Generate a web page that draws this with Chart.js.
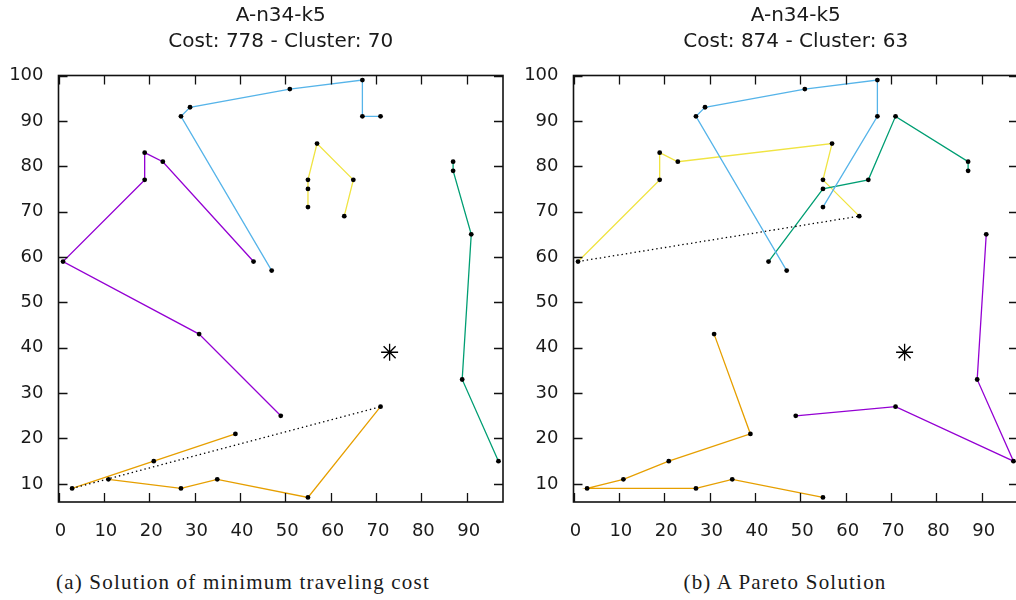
<!DOCTYPE html>
<html>
<head>
<meta charset="utf-8">
<title>A-n34-k5 solutions</title>
<script src="https://cdn.jsdelivr.net/npm/chart.js@4.4.1/dist/chart.umd.min.js"></script>
<style>
  html, body { margin: 0; padding: 0; background: #fff; }
  body { width: 1016px; height: 600px; overflow: hidden; position: relative; }
  .panel { position: absolute; top: 0; width: 562px; height: 560px; }
  .caption {
    position: absolute; top: 570px;
    font-family: "Liberation Serif", "DejaVu Serif", serif;
    font-size: 21px; letter-spacing: 1.2px; color: #1a1a1a;
    white-space: nowrap; transform: translateX(-50%);
  }
</style>
</head>
<body>
<div class="panel" style="left:0"><canvas id="chartA"></canvas></div>
<div class="panel" style="left:515px"><canvas id="chartB"></canvas></div>
<div class="caption" style="left:243px">(a) Solution of minimum traveling cost</div>
<div class="caption" style="left:785px">(b) A Pareto Solution</div>

<script>
// instance + axis setup
const instanceName = 'A-n34-k5';
const depot = [[73, 39]];
const xLimits = [0, 98];
const yLimits = [6, 100];
const tickStep = 10;

// route colours (gnuplot default palette)
const PURPLE = '#9400d3';
const BLUE = '#56b4e9';
const YELLOW = '#f0e442';
const GREEN = '#009e73';
const ORANGE = '#e69f00';

// solution (a): minimum traveling cost
const costA = 778, clusterA = 70;
const purpleA = [[43, 59], [23, 81], [19, 83], [19, 77], [1, 59], [31, 43], [49, 25]];
const blueA = [[47, 57], [27, 91], [29, 93], [51, 97], [67, 99], [67, 91], [71, 91]];
const yellowA = [[55, 71], [55, 75], [55, 77], [57, 85], [65, 77], [63, 69]];
const greenA = [[87, 81], [87, 79], [91, 65], [89, 33], [97, 15]];
const orangeA1 = [[39, 21], [21, 15], [3, 9]];
const orangeA2 = [[11, 11], [27, 9], [35, 11], [55, 7], [71, 27]];
const linkA = [[3, 9], [71, 27]];

// solution (b): a pareto solution
const costB = 874, clusterB = 63;
const blueB = [[47, 57], [27, 91], [29, 93], [51, 97], [67, 99], [67, 91], [55, 71]];
const greenB = [[43, 59], [55, 75], [65, 77], [71, 91], [87, 81], [87, 79]];
const yellowB = [[1, 59], [19, 77], [19, 83], [23, 81], [57, 85], [55, 77], [63, 69]];
const purpleB = [[49, 25], [71, 27], [97, 15], [89, 33], [91, 65]];
const orangeB = [[31, 43], [39, 21], [21, 15], [11, 11], [3, 9], [27, 9], [35, 11], [55, 7]];
const linkB = [[1, 59], [63, 69]];

const toXY = pts => pts.map(p => ({ x: p[0], y: p[1] }));

function route(pts, color) {
    return {
        data: toXY(pts),
        showLine: true,
        borderColor: color,
        borderWidth: 1.3,
        pointRadius: 2.4,
        pointBackgroundColor: '#000',
        pointBorderColor: '#000',
        pointBorderWidth: 0
    };
}

function link(pts) {
    return {
        data: toXY(pts),
        showLine: true,
        borderColor: '#000',
        borderWidth: 1.3,
        borderDash: [1.4, 3],
        pointRadius: 0
    };
}

function depotSet() {
    return {
        data: toXY(depot),
        showLine: false,
        pointStyle: 'star',
        pointRadius: 8.5,
        pointBorderColor: '#000',
        pointBorderWidth: 1.3,
        pointBackgroundColor: '#000'
    };
}

// gnuplot-like frame with inward ticks on all four sides
const frameTicks = {
    id: 'frameTicks',
    afterDraw(chart) {
        const { ctx, chartArea: a, scales: { x, y } } = chart;
        const len = 9;
        ctx.save();
        ctx.strokeStyle = '#111';
        ctx.lineWidth = 1.3;
        ctx.beginPath();
        x.ticks.forEach(t => {
            const px = Math.round(x.getPixelForValue(t.value)) + 0.5;
            ctx.moveTo(px, a.bottom); ctx.lineTo(px, a.bottom - len);
            ctx.moveTo(px, a.top); ctx.lineTo(px, a.top + len);
        });
        y.ticks.forEach(t => {
            const py = Math.round(y.getPixelForValue(t.value)) + 0.5;
            ctx.moveTo(a.left, py); ctx.lineTo(a.left + len, py);
            ctx.moveTo(a.right, py); ctx.lineTo(a.right - len, py);
        });
        ctx.stroke();
        ctx.lineWidth = 1.6;
        ctx.strokeRect(a.left, a.top, a.right - a.left, a.bottom - a.top);
        ctx.restore();
    }
};

const tickFont = { family: 'DejaVu Sans', size: 18 };

function makeChart(id, cost, cluster, datasets) {
    return new Chart(document.getElementById(id), {
        type: 'scatter',
        data: { datasets: datasets },
        options: {
            responsive: true,
            maintainAspectRatio: false,
            animation: false,
            events: [],
            layout: { padding: { left: 0, right: 59, top: 0, bottom: 0 } },
            plugins: {
                legend: { display: false },
                tooltip: { enabled: false },
                title: {
                    display: true,
                    fullSize: false,
                    text: [instanceName, 'Cost: ' + cost + ' - Cluster: ' + cluster],
                    color: '#1a1a1a',
                    font: { family: 'DejaVu Sans', size: 20, weight: 'normal', lineHeight: 1.3 },
                    padding: { top: 3, bottom: 22 }
                }
            },
            scales: {
                x: {
                    type: 'linear',
                    min: xLimits[0],
                    max: xLimits[1],
                    grid: { display: false, drawTicks: false },
                    border: { display: false },
                    ticks: {
                        stepSize: tickStep,
                        includeBounds: false,
                        autoSkip: false,
                        maxRotation: 0,
                        padding: 19,
                        labelOffset: 2,
                        color: '#1a1a1a',
                        font: tickFont
                    }
                },
                y: {
                    type: 'linear',
                    min: yLimits[0],
                    max: yLimits[1],
                    grid: { display: false, drawTicks: false },
                    border: { display: false },
                    ticks: {
                        stepSize: tickStep,
                        includeBounds: false,
                        padding: 15,
                        color: '#1a1a1a',
                        font: tickFont
                    }
                }
            }
        },
        plugins: [frameTicks]
    });
}

// nudge the padding so the plot frame sits on the wanted box
function pinArea(chart, box) {
    const a = chart.chartArea;
    const pad = chart.options.layout.padding;
    pad.left += box.left - a.left;
    pad.right += a.right - box.right;
    pad.bottom += a.bottom - box.bottom;
    chart.options.plugins.title.padding.bottom += box.top - a.top;
    chart.update('none');
}

const frameBox = { left: 58.5, top: 75.5, right: 503, bottom: 502 };

const chartA = makeChart('chartA', costA, clusterA, [
    depotSet(),
    link(linkA),
    route(purpleA, PURPLE),
    route(blueA, BLUE),
    route(yellowA, YELLOW),
    route(greenA, GREEN),
    route(orangeA1, ORANGE),
    route(orangeA2, ORANGE)
]);

const chartB = makeChart('chartB', costB, clusterB, [
    depotSet(),
    link(linkB),
    route(purpleB, PURPLE),
    route(blueB, BLUE),
    route(greenB, GREEN),
    route(yellowB, YELLOW),
    route(orangeB, ORANGE)
]);

pinArea(chartA, frameBox);
pinArea(chartB, frameBox);
</script>
</body>
</html>
